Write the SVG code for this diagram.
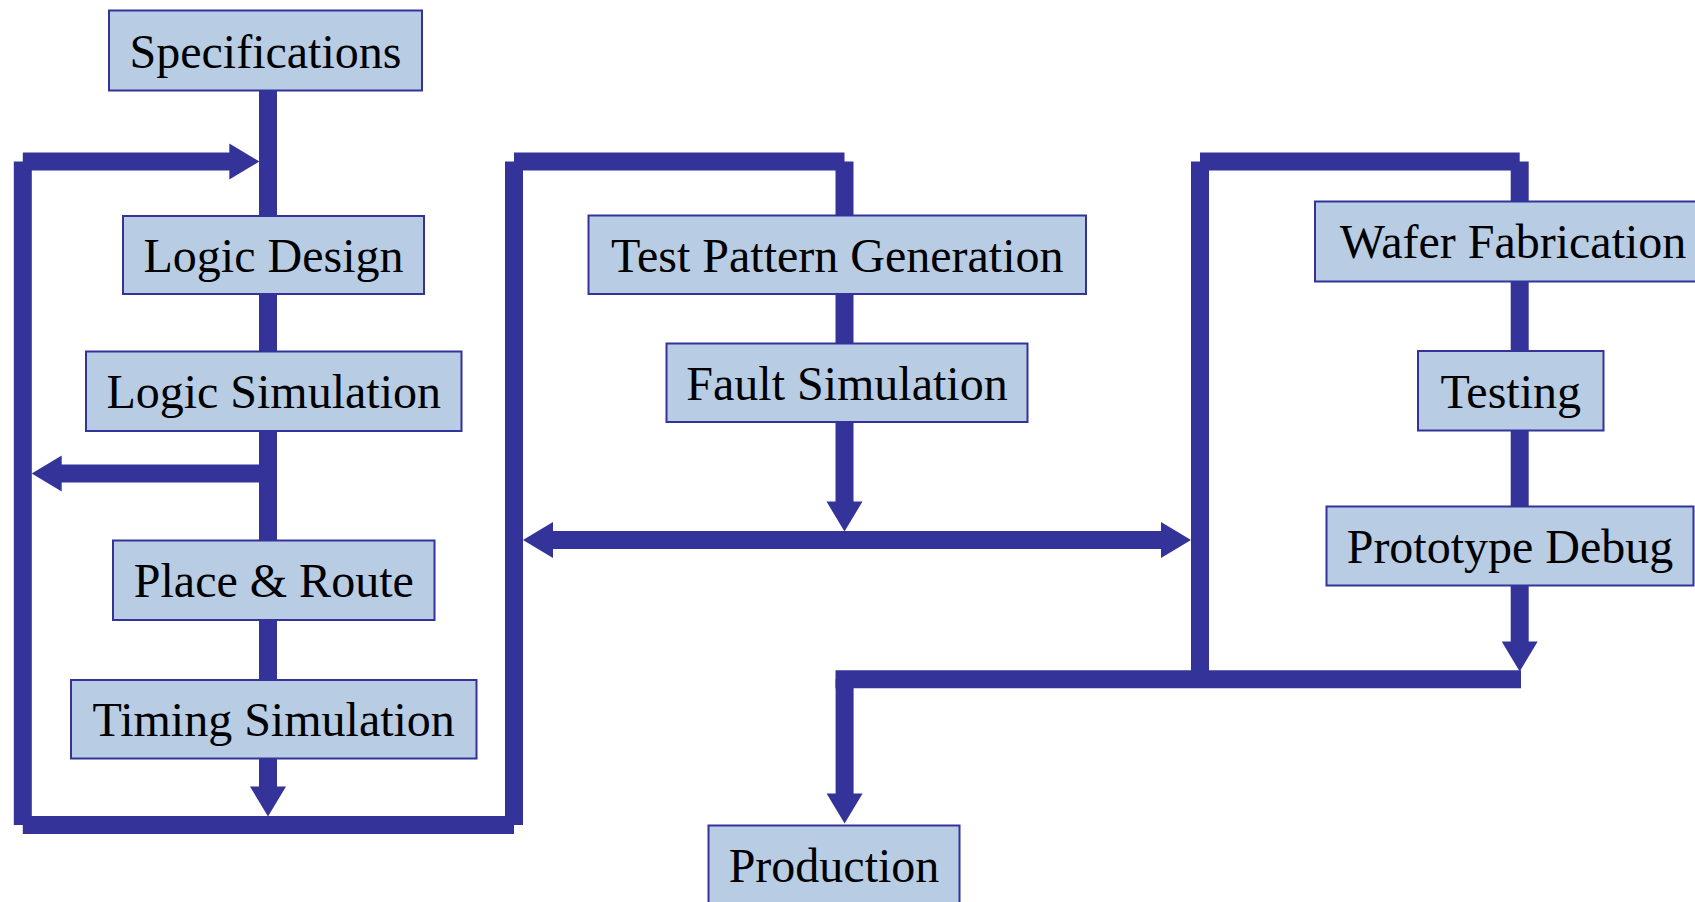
<svg xmlns="http://www.w3.org/2000/svg" width="1695" height="902" viewBox="0 0 1695 902">
  <style>
    .box { fill: #b8cce4; stroke: #333399; stroke-width: 2; }
    .label { font-family: "Liberation Serif", "Times New Roman", serif; font-size: 48px; fill: #000000; text-anchor: middle; }
    .flow { fill: none; stroke: #333399; stroke-width: 18; stroke-linecap: butt; }
    .head { marker-end: url(#arrow); }
  </style>
  <defs>
    <marker id="arrow" markerUnits="userSpaceOnUse" markerWidth="32" markerHeight="40" viewBox="-2 -20 32 40" refX="0" refY="0" orient="auto-start-reverse" overflow="visible">
      <path d="M-1,-18 L29,0 L-1,18 Z" fill="#333399"/>
    </marker>
  </defs>

  <!-- flow lines, drawn centre to centre with square ends -->
  <g id="connectors">
    <!-- design column -->
    <path class="flow" d="M268,90 V216"/>
    <path class="flow" d="M268,294 V352"/>
    <path class="flow" d="M268,431 V541"/>
    <path class="flow" d="M268,620 V680"/>
    <path class="flow head" d="M268,758 V787.5"/>
    <path class="flow head" d="M268,473.5 H60.7"/>
    <!-- design loop -->
    <path class="flow" d="M22.8,161.5 V825"/>
    <path class="flow head" d="M22.8,161.5 H230.3"/>
    <path class="flow" d="M22.8,825 H514"/>
    <path class="flow" d="M514,161.5 V825"/>
    <!-- test column -->
    <path class="flow" d="M514,161.5 H844.5"/>
    <path class="flow" d="M844.5,161.5 V215.5"/>
    <path class="flow" d="M844.5,294 V343.5"/>
    <path class="flow head" d="M844.5,422 V502.5"/>
    <path class="flow head" d="M552,540 H1162" marker-start="url(#arrow)"/>
    <!-- fabrication loop -->
    <path class="flow" d="M1200,161.5 V679.2"/>
    <path class="flow" d="M1200,161.5 H1519.7"/>
    <path class="flow" d="M1519.7,161.5 V201.5"/>
    <path class="flow" d="M1519.7,281 V351"/>
    <path class="flow" d="M1519.7,430.5 V506.5"/>
    <path class="flow head" d="M1519.7,585 V642.5"/>
    <path class="flow" d="M835.5,679.2 H1521"/>
    <path class="flow head" d="M844.6,679.2 V794.5"/>
  </g>

  <g id="specifications">
    <rect class="box" x="109" y="10.5" width="313" height="80"/>
    <text class="label" x="265.5" y="68">Specifications</text>
  </g>
  <g id="logic-design">
    <rect class="box" x="123" y="216" width="301" height="78"/>
    <text class="label" x="273.5" y="272">Logic Design</text>
  </g>
  <g id="logic-simulation">
    <rect class="box" x="86" y="351.5" width="375.5" height="79.5"/>
    <text class="label" x="273.7" y="408">Logic Simulation</text>
  </g>
  <g id="place-route">
    <rect class="box" x="113" y="540.5" width="321.5" height="79.5"/>
    <text class="label" x="273.8" y="597">Place &amp; Route</text>
  </g>
  <g id="timing-simulation">
    <rect class="box" x="71" y="680" width="405.5" height="78.5"/>
    <text class="label" x="273.7" y="736">Timing Simulation</text>
  </g>
  <g id="test-pattern-generation">
    <rect class="box" x="588.5" y="215.5" width="497.5" height="78.5"/>
    <text class="label" x="837.3" y="271.5">Test Pattern Generation</text>
  </g>
  <g id="fault-simulation">
    <rect class="box" x="666.5" y="343.5" width="361" height="78.5"/>
    <text class="label" x="847" y="399.5">Fault Simulation</text>
  </g>
  <g id="wafer-fabrication">
    <rect class="box" x="1315" y="201.5" width="396" height="80"/>
    <text class="label" x="1513" y="258">Wafer Fabrication</text>
  </g>
  <g id="testing">
    <rect class="box" x="1418" y="351" width="185.5" height="79.5"/>
    <text class="label" x="1510.7" y="408">Testing</text>
  </g>
  <g id="prototype-debug">
    <rect class="box" x="1326.5" y="506.5" width="367" height="79"/>
    <text class="label" x="1510" y="563">Prototype Debug</text>
  </g>
  <g id="production">
    <rect class="box" x="708.5" y="825.5" width="251" height="80"/>
    <text class="label" x="834" y="882">Production</text>
  </g>
</svg>
